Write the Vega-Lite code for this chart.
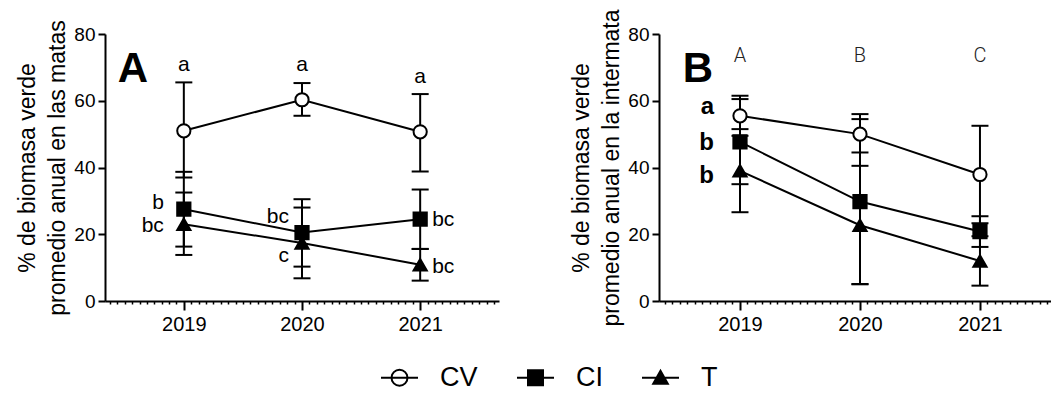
{
  "$schema": "https://vega.github.io/schema/vega-lite/v6.json",
  "background": "white",
  "padding": {"left": 16, "top": 8, "right": 0, "bottom": 0},
  "bounds": "flush",
  "spacing": 160,
  "config": {
    "view": {"stroke": null},
    "font": "Liberation Sans",
    "axis": {"grid": false, "domainColor": "black", "tickColor": "black", "labelColor": "black", "titleColor": "black", "domainWidth": 2, "tickWidth": 2}
  },
  "datasets": {
    "main": [
      {"panel": "A", "series": "CV", "year": 2019, "mean": 51.0, "lo": 37.0, "hi": 65.5},
      {"panel": "A", "series": "CV", "year": 2020, "mean": 60.3, "lo": 55.5, "hi": 65.3},
      {"panel": "A", "series": "CV", "year": 2021, "mean": 50.7, "lo": 38.8, "hi": 62.0},
      {"panel": "A", "series": "CI", "year": 2019, "mean": 27.5, "lo": 16.3, "hi": 38.7},
      {"panel": "A", "series": "CI", "year": 2020, "mean": 20.5, "lo": 10.3, "hi": 30.5},
      {"panel": "A", "series": "CI", "year": 2021, "mean": 24.5, "lo": 15.6, "hi": 33.4},
      {"panel": "A", "series": "T", "year": 2019, "mean": 23.0, "lo": 13.8, "hi": 32.5},
      {"panel": "A", "series": "T", "year": 2020, "mean": 17.4, "lo": 6.8, "hi": 28.0},
      {"panel": "A", "series": "T", "year": 2021, "mean": 10.85, "lo": 6.1, "hi": 15.6},
      {"panel": "B", "series": "CV", "year": 2019, "mean": 55.5, "lo": 49.5, "hi": 61.5},
      {"panel": "B", "series": "CV", "year": 2020, "mean": 50.0, "lo": 44.5, "hi": 56.0},
      {"panel": "B", "series": "CV", "year": 2021, "mean": 37.9, "lo": 23.3, "hi": 52.5},
      {"panel": "B", "series": "CI", "year": 2019, "mean": 47.7, "lo": 35.0, "hi": 60.5},
      {"panel": "B", "series": "CI", "year": 2020, "mean": 29.8, "lo": 5.1, "hi": 54.5},
      {"panel": "B", "series": "CI", "year": 2021, "mean": 20.8, "lo": 16.2, "hi": 25.4},
      {"panel": "B", "series": "T", "year": 2019, "mean": 39.0, "lo": 26.6, "hi": 51.5},
      {"panel": "B", "series": "T", "year": 2020, "mean": 22.7, "lo": 5.0, "hi": 40.5},
      {"panel": "B", "series": "T", "year": 2021, "mean": 12.0, "lo": 4.6, "hi": 19.4}
    ],
    "ann": [
      {"panel": "A", "kind": "top", "year": 2019, "y": 68.9, "label": "a"},
      {"panel": "A", "kind": "top", "year": 2020, "y": 68.9, "label": "a"},
      {"panel": "A", "kind": "top", "year": 2021, "y": 65.2, "label": "a"},
      {"panel": "A", "kind": "leftfar", "year": 2019, "y": 27.5, "label": "b"},
      {"panel": "A", "kind": "leftfar", "year": 2019, "y": 20.6, "label": "bc"},
      {"panel": "A", "kind": "leftnear", "year": 2020, "y": 23.5, "label": "bc"},
      {"panel": "A", "kind": "leftnear", "year": 2020, "y": 11.6, "label": "c"},
      {"panel": "A", "kind": "right", "year": 2021, "y": 22.4, "label": "bc"},
      {"panel": "A", "kind": "right", "year": 2021, "y": 8.4, "label": "bc"},
      {"panel": "A", "kind": "big", "year": 2018.57, "y": 65.6, "label": "A"},
      {"panel": "B", "kind": "light", "year": 2019, "y": 71.6, "label": "A"},
      {"panel": "B", "kind": "light", "year": 2020, "y": 71.6, "label": "B"},
      {"panel": "B", "kind": "light", "year": 2021, "y": 71.6, "label": "C"},
      {"panel": "B", "kind": "boldleft", "year": 2019, "y": 56.0, "label": "a"},
      {"panel": "B", "kind": "boldleft", "year": 2019, "y": 45.3, "label": "b"},
      {"panel": "B", "kind": "boldleft", "year": 2019, "y": 35.5, "label": "b"},
      {"panel": "B", "kind": "big", "year": 2018.65, "y": 65.6, "label": "B"}
    ]
  },
  "hconcat": [
    {
      "width": 394,
      "height": 267,
      "resolve": {"axis": {"x": "independent"}, "scale": {"shape": "independent"}},
      "layer": [
        {
          "data": {"name": "main"},
          "transform": [{"filter": "datum.panel === 'A'"}],
          "mark": {"type": "line", "color": "black", "strokeWidth": 2},
          "encoding": {
            "x": {"field": "year", "type": "quantitative", "scale": {"domain": [2018.333, 2021.667], "nice": false, "zero": false},
              "axis": {"orient": "bottom", "title": null, "labels": false, "domain": false, "tickSize": 3, "tickWidth": 1.5,
                "values": [2018.375,2018.4375,2018.5,2018.5625,2018.625,2018.6875,2018.75,2018.8125,2018.875,2018.9375,2019.0625,2019.125,2019.1875,2019.25,2019.3125,2019.375,2019.4375,2019.5,2019.5625,2019.625,2019.6875,2019.75,2019.8125,2019.875,2019.9375,2020.0625,2020.125,2020.1875,2020.25,2020.3125,2020.375,2020.4375,2020.5,2020.5625,2020.625,2020.6875,2020.75,2020.8125,2020.875,2020.9375,2021.0625,2021.125,2021.1875,2021.25,2021.3125,2021.375,2021.4375,2021.5,2021.5625,2021.625]}},
            "y": {"field": "mean", "type": "quantitative", "scale": {"domain": [0, 80], "nice": false},
              "axis": {"title": ["% de biomasa verde", "promedio anual en las matas"], "values": [0, 20, 40, 60, 80], "tickSize": 7, "labelFontSize": 19, "labelPadding": 3, "titleFontSize": 23, "titleFontWeight": "normal", "titleLineHeight": 30, "titlePadding": 4}},
            "detail": {"field": "series"}
          }
        },
        {
          "data": {"name": "main"},
          "transform": [{"filter": "datum.panel === 'A'"}],
          "mark": {"type": "rule", "color": "black", "strokeWidth": 2},
          "encoding": {
            "x": {"field": "year", "type": "quantitative", "axis": null},
            "y": {"field": "lo", "type": "quantitative"},
            "y2": {"field": "hi"}
          }
        },
        {
          "data": {"name": "main"},
          "transform": [{"filter": "datum.panel === 'A'"}],
          "mark": {"type": "tick", "orient": "horizontal", "size": 17, "thickness": 2, "color": "black", "opacity": 1},
          "encoding": {
            "x": {"field": "year", "type": "quantitative", "axis": null},
            "y": {"field": "lo", "type": "quantitative"}
          }
        },
        {
          "data": {"name": "main"},
          "transform": [{"filter": "datum.panel === 'A'"}],
          "mark": {"type": "tick", "orient": "horizontal", "size": 17, "thickness": 2, "color": "black", "opacity": 1},
          "encoding": {
            "x": {"field": "year", "type": "quantitative", "axis": null},
            "y": {"field": "hi", "type": "quantitative"}
          }
        },
        {
          "data": {"name": "main"},
          "transform": [{"filter": "datum.panel === 'A'"}],
          "mark": {"type": "point", "filled": true, "size": 175, "stroke": "black", "strokeWidth": 2, "opacity": 1},
          "encoding": {
            "x": {"field": "year", "type": "quantitative",
              "axis": {"orient": "bottom", "title": null, "values": [2019, 2020, 2021], "format": "d", "tickSize": 9, "labelFontSize": 20, "labelPadding": 4}},
            "y": {"field": "mean", "type": "quantitative"},
            "shape": {"field": "series", "type": "nominal",
              "scale": {"domain": ["CV", "CI", "T"], "range": ["circle", "square", "triangle-up"]}, "legend": null},
            "fill": {"field": "series", "type": "nominal",
              "scale": {"domain": ["CV", "CI", "T"], "range": ["white", "black", "black"]}, "legend": null}
          }
        },
        {
          "data": {"name": "main"},
          "transform": [{"filter": "datum.panel === 'legend'"}],
          "mark": {"type": "point", "filled": true, "fill": "black", "strokeWidth": 0, "opacity": 1},
          "encoding": {
            "x": {"field": "year", "type": "quantitative", "axis": null},
            "y": {"field": "mean", "type": "quantitative"},
            "shape": {"field": "series", "type": "nominal",
              "scale": {"domain": ["CV", "CI", "T"], "range": [
                "M0.9,0L0.8315,0.3444L0.6364,0.6364L0.3444,0.8315L0,0.9L-0.3444,0.8315L-0.6364,0.6364L-0.8315,0.3444L-0.9,0L-0.8315,-0.3444L-0.6364,-0.6364L-0.3444,-0.8315L0,-0.9L0.3444,-0.8315L0.6364,-0.6364L0.8315,-0.3444ZM0.7,0L0.6467,-0.2679L0.495,-0.495L0.2679,-0.6467L0,-0.7L-0.2679,-0.6467L-0.495,-0.495L-0.6467,-0.2679L-0.7,0L-0.6467,0.2679L-0.495,0.495L-0.2679,0.6467L0,0.7L0.2679,0.6467L0.495,0.495L0.6467,0.2679ZM-1.85,-0.1L1.85,-0.1L1.85,0.1L-1.85,0.1Z",
                "M-0.85,-0.85L0.85,-0.85L0.85,0.85L-0.85,0.85ZM-1.85,-0.1L1.85,-0.1L1.85,0.1L-1.85,0.1Z",
                "M0,-0.9L0.9,0.7L-0.9,0.7ZM-1.85,-0.1L1.85,-0.1L1.85,0.1L-1.85,0.1Z"
              ]},
              "legend": {"title": null, "orient": "none", "legendX": 281, "legendY": 330, "direction": "horizontal",
                "symbolSize": 400, "symbolFillColor": "black", "symbolStrokeWidth": 0, "symbolOpacity": 1,
                "labelFontSize": 27, "labelColor": "black", "labelOffset": 27, "columnPadding": 39}}
          }
        },
        {
          "data": {"name": "ann"},
          "transform": [{"filter": "datum.panel === 'A' && datum.kind === 'top'"}],
          "mark": {"type": "text", "fontSize": 21, "align": "center", "baseline": "alphabetic", "color": "black"},
          "encoding": {
            "x": {"field": "year", "type": "quantitative", "axis": null},
            "y": {"field": "y", "type": "quantitative"},
            "text": {"field": "label"}
          }
        },
        {
          "data": {"name": "ann"},
          "transform": [{"filter": "datum.panel === 'A' && datum.kind === 'leftfar'"}],
          "mark": {"type": "text", "fontSize": 21, "align": "right", "dx": -20, "baseline": "alphabetic", "color": "black"},
          "encoding": {
            "x": {"field": "year", "type": "quantitative", "axis": null},
            "y": {"field": "y", "type": "quantitative"},
            "text": {"field": "label"}
          }
        },
        {
          "data": {"name": "ann"},
          "transform": [{"filter": "datum.panel === 'A' && datum.kind === 'leftnear'"}],
          "mark": {"type": "text", "fontSize": 21, "align": "right", "dx": -13, "baseline": "alphabetic", "color": "black"},
          "encoding": {
            "x": {"field": "year", "type": "quantitative", "axis": null},
            "y": {"field": "y", "type": "quantitative"},
            "text": {"field": "label"}
          }
        },
        {
          "data": {"name": "ann"},
          "transform": [{"filter": "datum.panel === 'A' && datum.kind === 'right'"}],
          "mark": {"type": "text", "fontSize": 21, "align": "left", "dx": 12, "baseline": "alphabetic", "color": "black"},
          "encoding": {
            "x": {"field": "year", "type": "quantitative", "axis": null},
            "y": {"field": "y", "type": "quantitative"},
            "text": {"field": "label"}
          }
        },
        {
          "data": {"name": "ann"},
          "transform": [{"filter": "datum.panel === 'A' && datum.kind === 'big'"}],
          "mark": {"type": "text", "fontSize": 42, "fontWeight": "bold", "align": "center", "baseline": "alphabetic", "color": "black"},
          "encoding": {
            "x": {"field": "year", "type": "quantitative", "axis": null},
            "y": {"field": "y", "type": "quantitative"},
            "text": {"field": "label"}
          }
        }
      ]
    },
    {
      "width": 392,
      "height": 267,
      "resolve": {"axis": {"x": "independent"}},
      "layer": [
        {
          "data": {"name": "main"},
          "transform": [{"filter": "datum.panel === 'B'"}],
          "mark": {"type": "line", "color": "black", "strokeWidth": 2},
          "encoding": {
            "x": {"field": "year", "type": "quantitative", "scale": {"domain": [2018.325, 2021.592], "nice": false, "zero": false},
              "axis": {"orient": "bottom", "title": null, "labels": false, "domain": false, "tickSize": 3, "tickWidth": 1.5,
                "values": [2018.375,2018.4375,2018.5,2018.5625,2018.625,2018.6875,2018.75,2018.8125,2018.875,2018.9375,2019.0625,2019.125,2019.1875,2019.25,2019.3125,2019.375,2019.4375,2019.5,2019.5625,2019.625,2019.6875,2019.75,2019.8125,2019.875,2019.9375,2020.0625,2020.125,2020.1875,2020.25,2020.3125,2020.375,2020.4375,2020.5,2020.5625,2020.625,2020.6875,2020.75,2020.8125,2020.875,2020.9375,2021.0625,2021.125,2021.1875,2021.25,2021.3125,2021.375,2021.4375,2021.5,2021.5625]}},
            "y": {"field": "mean", "type": "quantitative", "scale": {"domain": [0, 80], "nice": false},
              "axis": {"title": ["% de biomasa verde", "promedio anual en la intermata"], "values": [0, 20, 40, 60, 80], "tickSize": 7, "labelFontSize": 19, "labelPadding": 3, "titleFontSize": 23, "titleFontWeight": "normal", "titleLineHeight": 30, "titlePadding": 4}},
            "detail": {"field": "series"}
          }
        },
        {
          "data": {"name": "main"},
          "transform": [{"filter": "datum.panel === 'B'"}],
          "mark": {"type": "rule", "color": "black", "strokeWidth": 2},
          "encoding": {
            "x": {"field": "year", "type": "quantitative", "axis": null},
            "y": {"field": "lo", "type": "quantitative"},
            "y2": {"field": "hi"}
          }
        },
        {
          "data": {"name": "main"},
          "transform": [{"filter": "datum.panel === 'B'"}],
          "mark": {"type": "tick", "orient": "horizontal", "size": 17, "thickness": 2, "color": "black", "opacity": 1},
          "encoding": {
            "x": {"field": "year", "type": "quantitative", "axis": null},
            "y": {"field": "lo", "type": "quantitative"}
          }
        },
        {
          "data": {"name": "main"},
          "transform": [{"filter": "datum.panel === 'B'"}],
          "mark": {"type": "tick", "orient": "horizontal", "size": 17, "thickness": 2, "color": "black", "opacity": 1},
          "encoding": {
            "x": {"field": "year", "type": "quantitative", "axis": null},
            "y": {"field": "hi", "type": "quantitative"}
          }
        },
        {
          "data": {"name": "main"},
          "transform": [{"filter": "datum.panel === 'B'"}],
          "mark": {"type": "point", "filled": true, "size": 175, "stroke": "black", "strokeWidth": 2, "opacity": 1},
          "encoding": {
            "x": {"field": "year", "type": "quantitative",
              "axis": {"orient": "bottom", "title": null, "values": [2019, 2020, 2021], "format": "d", "tickSize": 9, "labelFontSize": 20, "labelPadding": 4}},
            "y": {"field": "mean", "type": "quantitative"},
            "shape": {"field": "series", "type": "nominal",
              "scale": {"domain": ["CV", "CI", "T"], "range": ["circle", "square", "triangle-up"]}, "legend": null},
            "fill": {"field": "series", "type": "nominal",
              "scale": {"domain": ["CV", "CI", "T"], "range": ["white", "black", "black"]}, "legend": null}
          }
        },
        {
          "data": {"name": "ann"},
          "transform": [{"filter": "datum.panel === 'B' && datum.kind === 'light'"}],
          "mark": {"type": "text", "font": "Roboto", "fontWeight": 300, "fontSize": 20, "align": "center", "baseline": "alphabetic", "color": "#222222"},
          "encoding": {
            "x": {"field": "year", "type": "quantitative", "axis": null},
            "y": {"field": "y", "type": "quantitative"},
            "text": {"field": "label"}
          }
        },
        {
          "data": {"name": "ann"},
          "transform": [{"filter": "datum.panel === 'B' && datum.kind === 'boldleft'"}],
          "mark": {"type": "text", "fontSize": 24, "fontWeight": "bold", "align": "right", "dx": -26, "baseline": "alphabetic", "color": "black"},
          "encoding": {
            "x": {"field": "year", "type": "quantitative", "axis": null},
            "y": {"field": "y", "type": "quantitative"},
            "text": {"field": "label"}
          }
        },
        {
          "data": {"name": "ann"},
          "transform": [{"filter": "datum.panel === 'B' && datum.kind === 'big'"}],
          "mark": {"type": "text", "fontSize": 42, "fontWeight": "bold", "align": "center", "baseline": "alphabetic", "color": "black"},
          "encoding": {
            "x": {"field": "year", "type": "quantitative", "axis": null},
            "y": {"field": "y", "type": "quantitative"},
            "text": {"field": "label"}
          }
        }
      ]
    }
  ],
  "resolve": {
    "scale": {"x": "independent", "y": "independent", "shape": "independent", "fill": "independent"}
  }
}
